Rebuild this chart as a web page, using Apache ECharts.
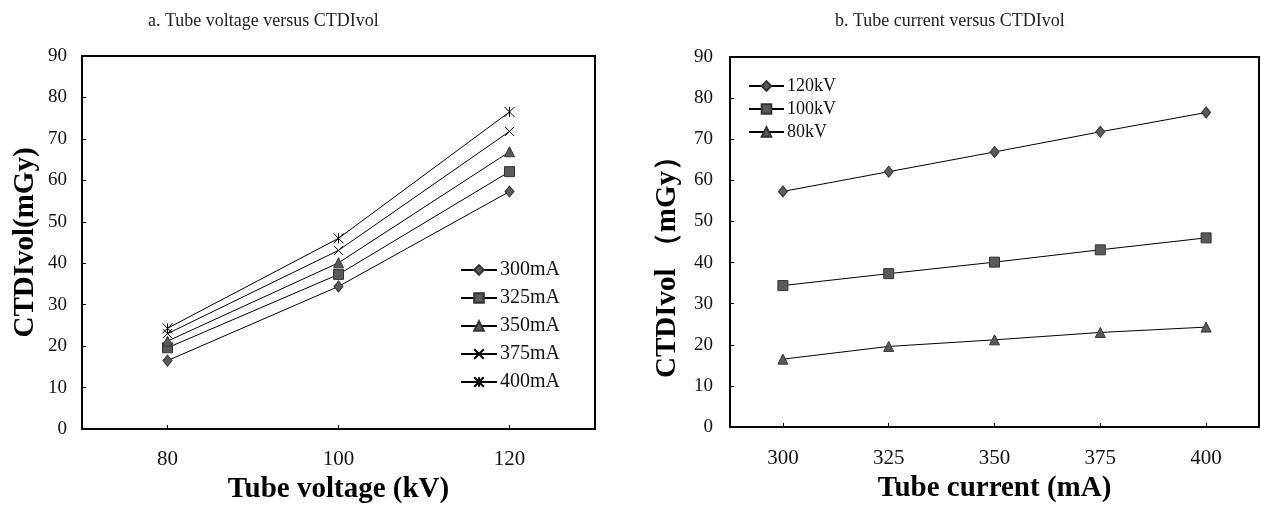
<!DOCTYPE html>
<html>
<head>
<meta charset="utf-8">
<script src="https://cdn.jsdelivr.net/npm/echarts@6/dist/echarts.min.js"></script>
<style>
  html, body { margin: 0; padding: 0; background: #fff; }
  #chart { width: 1261px; height: 509px; }
</style>
</head>
<body>
<div id="chart"></div>
<script>
// categories
const voltages = ["80", "100", "120"];
const currents = ["300", "325", "350", "375", "400"];
const currentNames = ["300mA", "325mA", "350mA", "375mA", "400mA"];
const voltageNames = ["120kV", "100kV", "80kV"];

// CTDIvol (mGy) per tube voltage, one value per tube current
const ctdi120 = [57.3, 62.1, 66.9, 71.8, 76.5];
const ctdi100 = [34.4, 37.3, 40.1, 43.1, 46.0];
const ctdi80 = [16.5, 19.6, 21.2, 23.0, 24.3];

const yTicks = { min: 0, max: 90, interval: 10 };

const serif = "Liberation Serif";
const markerFill = "#5a5a5a";
const crossPath = "path://M0,0L10,10M10,0L0,10";
const starPath = "path://M0,0L10,10M10,0L0,10M5,0L5,10";

const leftSymbols = [
  { symbol: "diamond", symbolSize: [9, 11] },
  { symbol: "rect", symbolSize: 10 },
  { symbol: "triangle", symbolSize: 10 },
  { symbol: crossPath, symbolSize: 9, hollow: true },
  { symbol: starPath, symbolSize: 10, hollow: true }
];
const rightSymbols = [
  { symbol: "diamond", symbolSize: [9, 11] },
  { symbol: "rect", symbolSize: 10 },
  { symbol: "triangle", symbolSize: 10 }
];

function lineSeries(name, data, sym, axisIdx) {
  return {
    name: name,
    type: "line",
    xAxisIndex: axisIdx,
    yAxisIndex: axisIdx,
    data: data,
    symbol: sym.symbol,
    symbolSize: sym.symbolSize,
    showAllSymbol: true,
    lineStyle: { color: "#000", width: 1 },
    itemStyle: sym.hollow
      ? { color: "rgba(0,0,0,0)", borderColor: "#000", borderWidth: 1 }
      : { color: markerFill, borderColor: "#333", borderWidth: 1 },
    emphasis: { disabled: true },
    z: 3
  };
}

const byVoltage = [ctdi80, ctdi100, ctdi120];
const leftSeries = currentNames.map((n, i) =>
  lineSeries(n, byVoltage.map(arr => arr[i]), leftSymbols[i], 0)
);
const rightSeries = [ctdi120, ctdi100, ctdi80].map((arr, i) =>
  lineSeries(voltageNames[i], arr, rightSymbols[i], 1)
);

function yAxis(gridIndex, name, gap, labelMargin, namePad) {
  return {
    type: "value",
    gridIndex: gridIndex,
    min: yTicks.min,
    max: yTicks.max,
    interval: yTicks.interval,
    name: name,
    nameLocation: "middle",
    nameGap: gap,
    nameTextStyle: {
      fontFamily: serif, fontWeight: "bold", fontSize: 29, color: "#000",
      padding: namePad
    },
    axisLine: { show: true, lineStyle: { color: "#000", width: 2 } },
    axisTick: { show: true, inside: true, length: 4, lineStyle: { color: "#000" } },
    axisLabel: { fontFamily: serif, fontSize: 19, color: "#111", margin: labelMargin },
    splitLine: { show: false }
  };
}

function xAxis(gridIndex, cats, name, gap, labelMargin) {
  return {
    type: "category",
    gridIndex: gridIndex,
    data: cats,
    boundaryGap: true,
    name: name,
    nameLocation: "middle",
    nameGap: gap,
    nameTextStyle: { fontFamily: serif, fontWeight: "bold", fontSize: 29, color: "#000" },
    axisLine: { show: true, lineStyle: { color: "#000", width: 2 } },
    axisTick: { show: true, inside: true, alignWithLabel: true, length: 4, lineStyle: { color: "#000" } },
    axisLabel: { fontFamily: serif, fontSize: 21, color: "#111", margin: labelMargin },
    splitLine: { show: false }
  };
}

const chart = echarts.init(document.getElementById("chart"), null, { renderer: "canvas" });

chart.setOption({
  animation: false,
  backgroundColor: "#fff",
  title: [
    {
      text: "a. Tube voltage versus CTDIvol",
      left: 143,
      top: 7,
      textStyle: { fontFamily: serif, fontWeight: "normal", fontSize: 18, color: "#222" }
    },
    {
      text: "b. Tube current versus CTDIvol",
      left: 830,
      top: 7,
      textStyle: { fontFamily: serif, fontWeight: "normal", fontSize: 18, color: "#222" }
    }
  ],
  legend: [
    {
      data: currentNames,
      orient: "vertical",
      left: 455,
      top: 255,
      itemWidth: 36,
      itemHeight: 12,
      itemGap: 8,
      selectedMode: false,
      textStyle: { fontFamily: serif, fontSize: 20, color: "#111", padding: [0, 0, 0, -2] }
    },
    {
      data: voltageNames,
      orient: "vertical",
      left: 743,
      top: 72,
      itemWidth: 35,
      itemHeight: 12,
      itemGap: 5,
      selectedMode: false,
      textStyle: { fontFamily: serif, fontSize: 18, color: "#111", padding: [0, 0, 0, -2] }
    }
  ],
  grid: [
    { left: 82, top: 56, width: 513, height: 374, show: true, borderColor: "#000", borderWidth: 2 },
    { left: 730, top: 57, width: 529, height: 370, show: true, borderColor: "#000", borderWidth: 2 }
  ],
  xAxis: [
    xAxis(0, voltages, "Tube voltage (kV)", 46, 20),
    xAxis(1, currents, "Tube current (mA)", 47, 21)
  ],
  yAxis: [
    yAxis(0, "CTDIvol(mGy)", 42, 15, [0, 0, 0, 0]),
    yAxis(1, "CTDIvol （mGy）", 48, 17, [0, 36, 0, 0])
  ],
  series: leftSeries.concat(rightSeries)
});
</script>
</body>
</html>
